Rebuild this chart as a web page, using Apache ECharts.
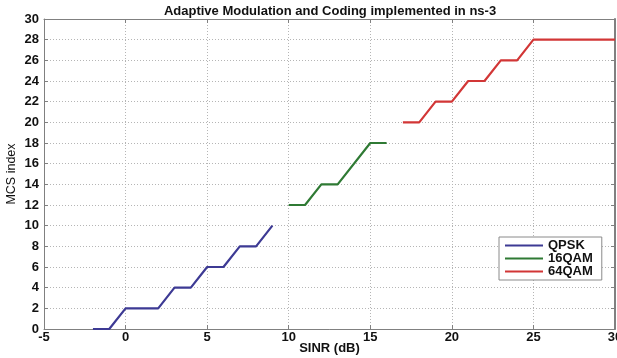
<!DOCTYPE html>
<html>
<head>
<meta charset="utf-8">
<script src="https://cdn.jsdelivr.net/npm/echarts@6/dist/echarts.min.js"></script>
<style>
  html, body { margin: 0; padding: 0; background: #fff; }
  #chart { width: 617px; height: 358px; }
</style>
</head>
<body>
<div id="chart"></div>
<script>
// MCS index versus SINR for each modulation scheme
const qpskSinr   = [-2, -1, 0, 2, 3, 4, 5, 6, 7, 8, 9];
const qpskMcs    = [0, 0, 2, 2, 4, 4, 6, 6, 8, 8, 10];
const qam16Sinr  = [10, 11, 12, 13, 15, 16];
const qam16Mcs   = [12, 12, 14, 14, 18, 18];
const qam64Sinr  = [17, 18, 19, 20, 21, 22, 23, 24, 25, 30];
const qam64Mcs   = [20, 20, 22, 22, 24, 24, 26, 26, 28, 28];
const seriesNames = ['QPSK', '16QAM', '64QAM'];
const seriesColors = ['#3d3a94', '#2f7a34', '#d23636'];

const pairs = (xs, ys) => xs.map((x, i) => [x, ys[i]]);
const font = 'Liberation Sans, Arial, sans-serif';
const axisGray = '#808080';
const inTick = { show: true, inside: true, length: 4, lineStyle: { color: axisGray } };
const gridLine = { show: true, lineStyle: { color: '#b5b5b5', type: [1, 2], width: 1 } };
const tickText = { fontFamily: font, fontSize: 13, fontWeight: 'bold', color: '#111' };

const chart = echarts.init(document.getElementById('chart'));

chart.setOption({
  animation: false,
  title: {
    text: 'Adaptive Modulation and Coding implemented in ns-3',
    left: 325, top: 0, textAlign: 'center',
    textStyle: { fontFamily: font, fontSize: 13, fontWeight: 'bold', color: '#111' }
  },
  legend: {
    left: 499, top: 237,
    orient: 'vertical',
    itemWidth: 38, itemHeight: 2, itemGap: 0,
    icon: 'rect',
    backgroundColor: '#fff',
    borderColor: '#8a8a8a', borderWidth: 1, borderRadius: 0,
    padding: [2, 9, 2, 6],
    textStyle: { fontFamily: font, fontSize: 13, fontWeight: 'bold', color: '#111', lineHeight: 12 },
    data: seriesNames
  },
  grid: { left: 44, right: 2, top: 19, bottom: 29, outerBoundsMode: 'none' },
  xAxis: [{
    type: 'value', min: -5, max: 30, interval: 5,
    name: 'SINR (dB)', nameLocation: 'middle', nameGap: 13, nameMoveOverlap: false,
    nameTextStyle: { fontFamily: font, fontSize: 13, fontWeight: 'bold', color: '#111' },
    axisLine: { show: true, onZero: false, lineStyle: { color: axisGray } },
    axisTick: inTick,
    axisLabel: { ...tickText, margin: 2 },
    splitLine: gridLine
  }, {
    type: 'value', min: -5, max: 30, interval: 5, position: 'top',
    axisLine: { show: true, onZero: false, lineStyle: { color: axisGray } },
    axisTick: inTick,
    axisLabel: { show: false }, splitLine: { show: false }
  }],
  yAxis: [{
    type: 'value', min: 0, max: 30, interval: 2,
    name: 'MCS index', nameLocation: 'middle', nameGap: 26, nameMoveOverlap: false,
    nameTextStyle: { fontFamily: font, fontSize: 12.5, color: '#111' },
    axisLine: { show: true, onZero: false, lineStyle: { color: axisGray } },
    axisTick: inTick,
    axisLabel: { ...tickText, margin: 5 },
    splitLine: gridLine
  }, {
    type: 'value', min: 0, max: 30, interval: 2, position: 'right',
    axisLine: { show: true, onZero: false, lineStyle: { color: axisGray, width: 2 } },
    axisTick: inTick,
    axisLabel: { show: false }, splitLine: { show: false }
  }],
  series: [
    { name: seriesNames[0], data: pairs(qpskSinr, qpskMcs) },
    { name: seriesNames[1], data: pairs(qam16Sinr, qam16Mcs) },
    { name: seriesNames[2], data: pairs(qam64Sinr, qam64Mcs) }
  ].map((s, i) => ({
    ...s, type: 'line', showSymbol: false, symbol: 'none',
    color: seriesColors[i],
    lineStyle: { width: 2.2, color: seriesColors[i] },
    xAxisIndex: 0, yAxisIndex: 0, z: 3
  }))
});
</script>
</body>
</html>
